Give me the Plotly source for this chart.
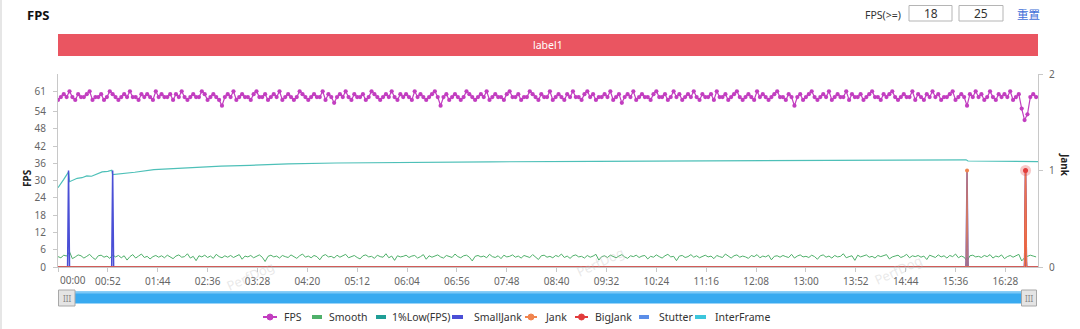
import plotly.graph_objects as go

# ---------------- data ----------------
TICK_LABELS = ["00:00", "00:52", "01:44", "02:36", "03:28", "04:20", "05:12", "06:04",
               "06:56", "07:48", "08:40", "09:32", "10:24", "11:16", "12:08", "13:00",
               "13:52", "14:44", "15:36", "16:28"]
TICK_STEP = 52          # seconds between x tick labels
N_SECONDS = 1023        # samples on the time axis (one per second)
SAMPLE_STEP = 3         # FPS / Smooth sampled every 3 seconds

fps_values = [
    58, 59, 60, 59, 61, 59, 58, 60, 59, 59, 60, 61, 58, 59, 59, 60, 58, 59, 61, 60,
    59, 58, 59, 60, 59, 61, 59, 59, 58, 60, 59, 60, 59, 58, 61, 59, 60, 59, 59, 60,
    58, 60, 59, 61, 59, 58, 59, 60, 59, 59, 61, 60, 58, 59, 60, 59, 58, 56, 59, 60,
    59, 61, 58, 59, 60, 59, 59, 58, 60, 61, 59, 59, 60, 58, 59, 60, 59, 61, 58, 59,
    60, 59, 58, 59, 61, 60, 59, 58, 59, 60, 59, 59, 61, 58, 60, 59, 57, 59, 60, 59,
    61, 59, 58, 60, 59, 59, 60, 58, 59, 61, 60, 59, 58, 59, 60, 59, 61, 59, 58, 60,
    59, 60, 59, 58, 61, 59, 60, 59, 58, 59, 60, 61, 59, 56, 59, 60, 58, 59, 60, 59,
    58, 59, 61, 60, 59, 58, 59, 60, 59, 61, 58, 59, 60, 59, 59, 58, 60, 61, 59, 59,
    60, 58, 59, 59, 61, 60, 59, 58, 60, 59, 59, 61, 58, 59, 60, 59, 58, 60, 59, 61,
    59, 59, 58, 60, 61, 59, 60, 58, 59, 59, 60, 59, 61, 58, 59, 60, 57, 59, 60, 59,
    61, 58, 59, 60, 59, 59, 58, 60, 61, 59, 59, 60, 58, 59, 61, 59, 60, 58, 59, 60,
    59, 61, 59, 58, 60, 59, 59, 60, 58, 61, 59, 59, 60, 58, 59, 60, 61, 59, 58, 59,
    60, 59, 58, 61, 59, 60, 59, 58, 59, 60, 61, 59, 59, 58, 60, 59, 56, 59, 60, 58,
    59, 60, 61, 59, 58, 59, 60, 59, 61, 58, 59, 60, 59, 59, 61, 58, 60, 59, 59, 60,
    58, 59, 60, 61, 59, 59, 58, 60, 59, 60, 61, 59, 58, 59, 60, 59, 59, 61, 58, 60,
    59, 58, 60, 59, 61, 59, 60, 58, 59, 59, 60, 61, 58, 59, 60, 59, 56, 60, 59, 61,
    59, 60, 58, 59, 61, 59, 58, 60, 59, 60, 59, 61, 58, 59, 60, 55, 51, 53, 59, 60,
    59,
]

smooth_values = [
    3.6, 3.2, 4.1, 3.8, 5.3, 2.9, 3.5, 4.2, 3.9, 3.1, 3.7, 4.4, 3.3, 2.6, 3.9, 4.1, 3.4, 3.8, 3.0, 4.2,
    3.5, 4.0, 3.2, 3.9, 2.4, 3.6, 4.3, 3.1, 3.8, 4.5, 3.3, 3.7, 2.8, 3.6, 4.0, 3.4, 3.9, 3.2, 4.1, 3.5,
    2.9, 3.8, 4.2, 3.4, 3.6, 4.6, 3.1, 3.7, 2.2, 3.9, 3.5, 4.1, 3.3, 3.8, 3.0, 4.4, 3.6, 3.2, 3.9, 3.4,
    4.0, 3.3, 3.7, 4.3, 2.7, 3.8, 3.5, 4.0, 3.2, 3.6, 4.2, 3.4, 1.9, 3.7, 4.1, 3.5, 3.8, 3.1, 4.0, 3.6,
    3.3, 4.2, 3.7, 3.0, 3.9, 4.5, 3.4, 3.8, 3.2, 4.0, 3.6, 2.5, 3.9, 4.3, 3.5, 3.7, 3.1, 4.1, 3.4, 3.8,
    4.4, 3.2, 3.6, 4.0, 3.3, 2.8, 3.9, 4.2, 3.5, 3.7, 3.0, 4.1, 3.6, 3.4, 4.6, 3.2, 3.8, 2.3, 3.9, 3.5,
    3.7, 4.1, 3.3, 3.8, 4.0, 3.1, 3.6, 4.3, 2.7, 3.9, 3.4, 3.8, 4.2, 3.5, 3.1, 4.0, 3.7, 3.3, 4.5, 3.6,
    3.2, 3.9, 4.1, 3.4, 2.1, 3.7, 4.0, 3.5, 3.8, 3.2, 4.4, 3.6, 3.3, 3.9, 2.9, 4.1, 3.5, 3.7, 4.2, 3.4,
    3.8, 3.1, 4.0, 3.6, 3.3, 4.3, 3.5, 2.6, 3.9, 4.1, 3.4, 3.7, 3.2, 4.0, 3.6, 4.5, 3.3, 3.8, 3.0, 3.9,
    4.2, 3.5, 3.7, 3.1, 4.0, 3.4, 3.8, 4.4, 2.4, 3.6, 3.9, 3.3, 4.1, 3.7, 3.2, 3.8, 4.3, 3.5, 3.0, 3.9,
    3.6, 4.1, 3.3, 3.8, 4.0, 2.8, 3.7, 3.4, 4.2, 3.6, 3.1, 3.9, 4.4, 3.5, 3.7, 2.2, 3.8, 4.0, 3.3, 3.6,
    4.3, 3.4, 3.9, 3.2, 3.7, 4.1, 3.5, 3.8, 2.9, 4.0, 3.6, 3.3, 4.5, 3.7, 3.1, 3.9, 4.2, 3.4, 3.8, 3.5,
    3.0, 4.0, 3.6, 4.3, 3.2, 3.8, 3.5, 4.1, 2.5, 3.7, 3.9, 3.4, 4.0, 3.6, 3.3, 4.4, 3.1, 3.8, 4.2, 3.5,
    3.7, 3.3, 4.1, 3.6, 2.7, 3.9, 4.2, 3.4, 3.8, 3.1, 4.0, 3.5, 3.7, 4.6, 3.2, 3.6, 3.9, 2.3, 4.1, 3.5,
    3.8, 4.2, 3.4, 3.7, 3.1, 4.0, 3.6, 3.9, 4.3, 2.8, 3.5, 3.8, 4.1, 3.3, 3.7, 4.4, 3.2, 3.9, 3.6, 4.0,
    3.4, 3.8, 2.6, 4.1, 3.7, 3.3, 4.2, 3.5, 3.9, 3.1, 4.0, 3.6, 4.5, 3.2, 3.8, 3.4, 2.0, 3.9, 4.1, 3.5,
    3.7, 3.3, 4.0, 3.6, 4.3, 3.1, 3.8, 3.5, 4.2, 2.9, 3.6, 4.0, 3.4, 3.9, 4.4, 2.1, 3.2, 3.7, 4.1, 3.8,
    3.5,
]

low1_times = [0, 3, 6, 9, 11, 12, 16, 20, 25, 30, 35, 40, 46, 52, 56, 57, 65, 80, 100, 130,
              170, 200, 240, 290, 340, 450, 560, 680, 800, 900, 947, 949, 1009, 1011, 1022]
low1_values = [27.5, 28.8, 30.4, 32.0, 33.0, 29.6, 30.2, 30.8, 31.0, 31.6, 31.5, 32.3, 33.0, 33.2, 33.6, 32.1,
               32.3, 32.9, 33.8, 34.4, 35.0, 35.3, 35.8, 36.1, 36.3, 36.5, 36.7, 36.9, 37.0, 37.1,
               37.2, 36.8, 36.8, 36.6, 36.6]

small_jank_times = [11, 57, 948, 1009]
jank_times = [948, 1009]
big_jank_times = [1009]
stutter_times = [948, 1009]
stutter_values = [0.1, 0.12]
interframe_times = []

SERIES_NAMES = ["FPS", "Smooth", "1%Low(FPS)", "SmallJank", "Jank", "BigJank", "Stutter", "InterFrame"]
SERIES_COLORS = ["#c23ec0", "#4fb06a", "#1f9e96", "#4a4fd6", "#f0844e", "#e23b3b", "#5b8ee8", "#3cc6dc"]
C = dict(zip(SERIES_NAMES, SERIES_COLORS))

# ---------------- helpers ----------------
def spikes(times, vals=None):
    s = [0] * N_SECONDS
    for i, t in enumerate(times):
        s[t] = vals[i] if vals else 1
    return s

all_seconds = list(range(N_SECONDS))
sample_seconds = [i * SAMPLE_STEP for i in range(len(fps_values))]

L, R, T, B = 58, 1038, 74, 267
W_PLOT, H_PLOT = R - L, B - T


def px(x):
    return (x - L) / W_PLOT


def py(y):
    return (B - y) / H_PLOT


FONT = "Noto Sans, Noto Sans CJK SC, sans-serif"

fig = go.Figure()

fig.add_trace(go.Scatter(x=sample_seconds, y=smooth_values, mode="lines",
                         line=dict(color=C["Smooth"], width=1), name="Smooth"))
fig.add_trace(go.Scatter(x=low1_times, y=low1_values, mode="lines",
                         line=dict(color="#4ec0b8", width=1.2), name="1%Low(FPS)"))
fig.add_trace(go.Scatter(x=sample_seconds, y=fps_values, mode="lines+markers",
                         line=dict(color=C["FPS"], width=1.2),
                         marker=dict(color=C["FPS"], size=4.2), name="FPS"))

fig.add_trace(go.Scatter(x=all_seconds, y=spikes(interframe_times), mode="lines", yaxis="y2",
                         line=dict(color=C["InterFrame"], width=1.5), name="InterFrame"))
fig.add_trace(go.Scatter(x=all_seconds, y=spikes(stutter_times, stutter_values), mode="lines", yaxis="y2",
                         line=dict(color=C["Stutter"], width=2), name="Stutter"))
fig.add_trace(go.Scatter(x=all_seconds, y=spikes(small_jank_times), mode="lines", yaxis="y2",
                         line=dict(color=C["SmallJank"], width=1.5), name="SmallJank"))
fig.add_trace(go.Scatter(x=all_seconds, y=spikes(big_jank_times), mode="lines", yaxis="y2",
                         line=dict(color=C["BigJank"], width=1.5), name="BigJank"))
fig.add_trace(go.Scatter(x=all_seconds, y=spikes(jank_times), mode="lines", yaxis="y2", opacity=0.8,
                         line=dict(color=C["Jank"], width=1.2), name="Jank"))
fig.add_trace(go.Scatter(x=jank_times, y=[1] * len(jank_times), mode="markers", yaxis="y2",
                         marker=dict(color=C["Jank"], size=4), showlegend=False))
fig.add_trace(go.Scatter(x=big_jank_times, y=[1] * len(big_jank_times), mode="markers", yaxis="y2",
                         marker=dict(color="rgba(226,59,59,0.28)", size=11), showlegend=False))
fig.add_trace(go.Scatter(x=big_jank_times, y=[1] * len(big_jank_times), mode="markers", yaxis="y2",
                         marker=dict(color=C["BigJank"], size=5), showlegend=False))

shapes = []
annotations = []

# left page border
shapes.append(dict(type="line", xref="paper", yref="paper", x0=px(1), x1=px(1), y0=py(0), y1=py(329),
                   line=dict(color="#e6e6e6", width=2), layer="below"))

# title & top controls
annotations.append(dict(text="<b>FPS</b>", x=px(25), y=py(15), xref="paper", yref="paper",
                        xanchor="left", yanchor="middle", showarrow=False,
                        font=dict(size=13, color="#111", family=FONT)))
annotations.append(dict(text="FPS(>=)", x=px(903), y=py(15), xref="paper", yref="paper",
                        xanchor="right", yanchor="middle", showarrow=False,
                        font=dict(size=10.5, color="#333", family=FONT)))
for (x0, x1, txt) in [(909, 952, "18"), (959, 1003, "25")]:
    shapes.append(dict(type="rect", xref="paper", yref="paper", x0=px(x0), x1=px(x1), y0=py(21), y1=py(5.5),
                       line=dict(color="#b5b5b5", width=1), fillcolor="white"))
    annotations.append(dict(text=txt, x=px((x0 + x1) / 2), y=py(13.5), xref="paper", yref="paper",
                            xanchor="center", yanchor="middle", showarrow=False,
                            font=dict(size=12, color="#333", family=FONT)))
annotations.append(dict(text="重置", x=px(1028), y=py(13.5), xref="paper", yref="paper",
                        xanchor="center", yanchor="middle", showarrow=False,
                        font=dict(size=11.5, color="#3f6fd8", family="Noto Sans CJK SC, sans-serif")))

# label bar
shapes.append(dict(type="rect", xref="paper", yref="paper", x0=px(58), x1=px(1038), y0=py(56), y1=py(34),
                   line=dict(width=0), fillcolor="#ea5561"))
annotations.append(dict(text="label1", x=px(548), y=py(45), xref="paper", yref="paper",
                        xanchor="center", yanchor="middle", showarrow=False,
                        font=dict(size=10.5, color="white", family=FONT)))

# axis titles
annotations.append(dict(text="<b>FPS</b>", x=px(27), y=py(178), xref="paper", yref="paper",
                        xanchor="center", yanchor="middle", showarrow=False, textangle=-90,
                        font=dict(size=10, color="#222", family=FONT)))
annotations.append(dict(text="<b>Jank</b>", x=px(1065), y=py(165), xref="paper", yref="paper",
                        xanchor="center", yanchor="middle", showarrow=False, textangle=90,
                        font=dict(size=10, color="#222", family=FONT)))

# first x label is kept inside the plot (left aligned on its tick)
tick_text = [""] + TICK_LABELS[1:]
annotations.append(dict(text=TICK_LABELS[0], x=0, y=py(280), xref="x", yref="paper",
                        xanchor="left", yanchor="middle", xshift=0, showarrow=False,
                        font=dict(size=10, color="#666", family=FONT)))

# watermarks
for (wx, wy) in [(250, 276), (600, 262), (898, 270)]:
    annotations.append(dict(text="PerfDog", x=px(wx), y=py(wy), xref="paper", yref="paper",
                            xanchor="center", yanchor="middle", showarrow=False, textangle=-25,
                            font=dict(size=13, color="rgba(190,190,190,0.35)", family=FONT)))

# data-zoom slider
shapes.append(dict(type="rect", xref="paper", yref="paper", x0=px(62), x1=px(1034), y0=py(303.5), y1=py(291.5),
                   line=dict(width=0), fillcolor="#38aaf0"))
shapes.append(dict(type="rect", xref="paper", yref="paper", x0=px(62), x1=px(1034), y0=py(293.5), y1=py(291.5),
                   line=dict(width=0), fillcolor="#7cc8f6"))
for (hx0, hx1) in [(58.5, 75), (1021.5, 1036.5)]:
    shapes.append(dict(type="rect", xref="paper", yref="paper", x0=px(hx0), x1=px(hx1), y0=py(306), y1=py(290),
                       line=dict(color="#a8a8a8", width=1), fillcolor="#e4e4e4"))
    annotations.append(dict(text="III", x=px((hx0 + hx1) / 2), y=py(298), xref="paper", yref="paper",
                            xanchor="center", yanchor="middle", showarrow=False,
                            font=dict(size=8, color="#888", family=FONT)))

# manual legend
legend_layout = [  # icon x0, icon x1, text x, has marker
    (263, 277, 282, True), (312, 322, 327, False), (376, 386, 390, False), (452, 463, 472, False),
    (525, 537, 543, True), (575, 588, 593, True), (639, 649, 657, False), (695, 706, 713, False),
]
LY = 317
for name, color, (ix0, ix1, tx, mk) in zip(SERIES_NAMES, SERIES_COLORS, legend_layout):
    if mk:
        shapes.append(dict(type="line", xref="paper", yref="paper", x0=px(ix0), x1=px(ix1), y0=py(LY), y1=py(LY),
                           line=dict(color=color, width=2)))
        cx = (ix0 + ix1) / 2
        shapes.append(dict(type="circle", xref="paper", yref="paper", x0=px(cx - 3), x1=px(cx + 3),
                           y0=py(LY + 3), y1=py(LY - 3), line=dict(color=color, width=1), fillcolor=color))
    else:
        shapes.append(dict(type="rect", xref="paper", yref="paper", x0=px(ix0), x1=px(ix1), y0=py(LY + 2),
                           y1=py(LY - 2), line=dict(width=0), fillcolor=color))
    annotations.append(dict(text=name, x=px(tx), y=py(LY), xref="paper", yref="paper",
                            xanchor="left", yanchor="middle", showarrow=False,
                            font=dict(size=10.5, color="#333", family=FONT)))

axis_common = dict(showgrid=False, zeroline=False, showline=True, linecolor="#c8c8c8", linewidth=1,
                   ticks="outside", ticklen=4, tickcolor="#c8c8c8",
                   tickfont=dict(size=10, color="#666", family=FONT))

fig.update_layout(
    width=1080, height=329,
    margin=dict(l=L, r=1080 - R, t=T, b=329 - B),
    paper_bgcolor="white", plot_bgcolor="white",
    showlegend=False,
    font=dict(family=FONT, size=10, color="#666"),
    xaxis=dict(range=[0, N_SECONDS - 1],
               tickvals=[i * TICK_STEP for i in range(len(TICK_LABELS))],
               ticktext=tick_text, ticklabelstandoff=1, **axis_common),
    yaxis=dict(range=[0, 67], tickvals=[0, 6, 12, 18, 24, 30, 36, 42, 48, 54, 61],
               ticklabelstandoff=5, **axis_common),
    yaxis2=dict(range=[0, 2], tickvals=[0, 1, 2], overlaying="y", side="right",
                ticklabelstandoff=4, **axis_common),
    shapes=shapes, annotations=annotations,
)

fig.write_html("out.html", config={"displayModeBar": False})
